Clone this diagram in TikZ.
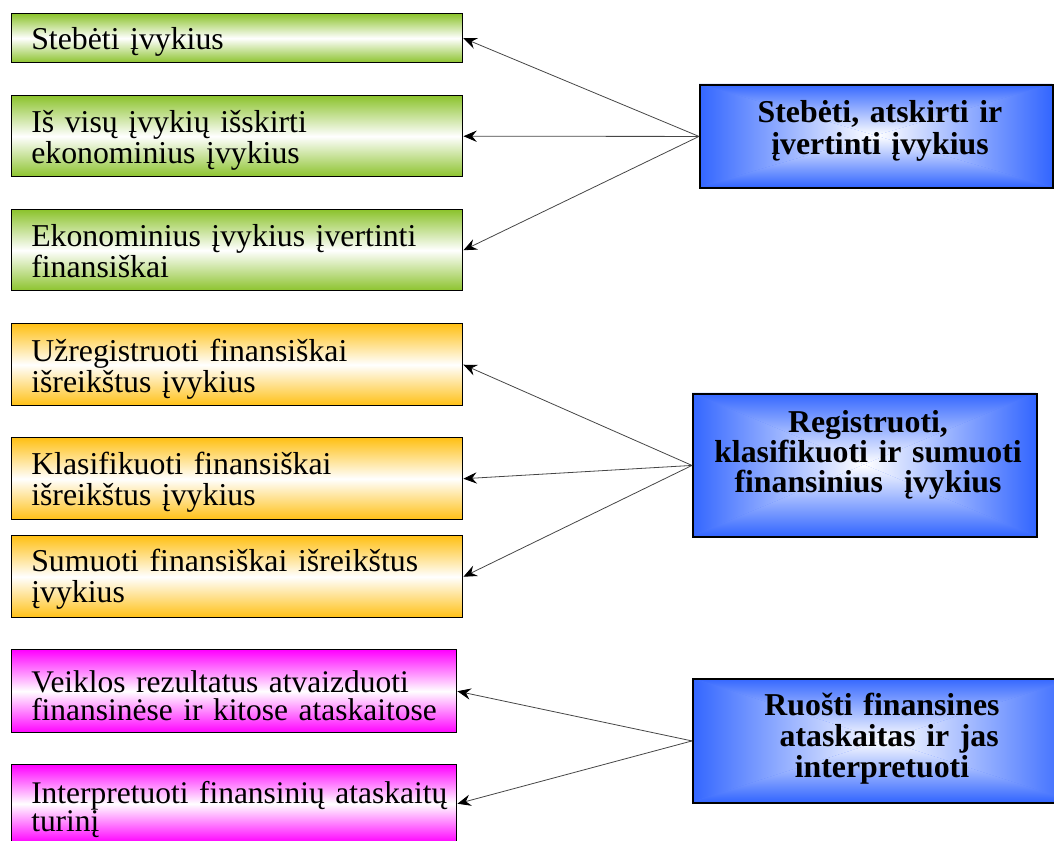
\documentclass[tikz,border=0pt]{standalone}
\usepackage{fontspec}
\setmainfont{Liberation Serif}[Ligatures=NoCommon]
\usetikzlibrary{arrows.meta}
\definecolor{cgreen}{RGB}{140,195,45}
\definecolor{corange}{RGB}{255,192,20}
\definecolor{cmag}{RGB}{255,0,255}
\definecolor{cblue}{RGB}{51,102,255}
\definecolor{cline}{RGB}{70,70,70}
\newcommand\bshade[4]{%
  \fill[cblue!85!white] (#1,#2) rectangle (#3,#4);
  \shade[top color=cblue,bottom color=white] (#1,#2) -- (#3,#2) -- ({(#1+#3)/2},{(#2+#4)/2}) -- cycle;
  \shade[top color=white,bottom color=cblue] (#1,#4) -- (#3,#4) -- ({(#1+#3)/2},{(#2+#4)/2}) -- cycle;
  \shade[left color=cblue,right color=white] (#1,#2) -- (#1,#4) -- ({(#1+#3)/2},{(#2+#4)/2}) -- cycle;
  \shade[left color=white,right color=cblue] (#3,#2) -- (#3,#4) -- ({(#1+#3)/2},{(#2+#4)/2}) -- cycle;
}
\tikzset{
  lbox/.style={draw=black, line width=1.1pt, rectangle, inner sep=0pt, anchor=north west, minimum width=0.75pt*451},
  gbox/.style={lbox, top color=cgreen, bottom color=cgreen, middle color=white},
  obox/.style={lbox, top color=corange, bottom color=corange, middle color=white},
  mbox/.style={lbox, top color=cmag, bottom color=cmag, middle color=white, minimum width=0.75pt*445},
  ltext/.style={anchor=base west, inner sep=0pt, align=left, text width=0.75pt*425, font=\fontsize{23.85}{23.25}\selectfont},
  mtext/.style={ltext, font=\fontsize{23.6}{21.5}\selectfont},
  bluebox/.style={draw=black, line width=1.4pt, rectangle, inner sep=0pt, anchor=north west},
  btext/.style={anchor=base, inner sep=0pt, align=center, text width=0.75pt*360, font=\bfseries\fontsize{23.85}{23.5}\selectfont},
  arr/.style={draw=cline, line width=0.6pt, -{Stealth[length=10pt,width=8.5pt,inset=3.5pt,black]}}
}
\begin{document}
\begin{tikzpicture}[x=0.75pt,y=-0.75pt]
\useasboundingbox (0,0) rectangle (1054,841);
\clip (0,0) rectangle (1054,841);
% left boxes
\node[gbox, minimum height=0.75pt*49] (b1) at (11,13) {};
\node[gbox, minimum height=0.75pt*81] (b2) at (11,95) {};
\node[gbox, minimum height=0.75pt*81] (b3) at (11,209) {};
\node[obox, minimum height=0.75pt*82] (b4) at (11,323) {};
\node[obox, minimum height=0.75pt*82] (b5) at (11,437) {};
\node[obox, minimum height=0.75pt*82] (b6) at (11,535) {};
\node[mbox, minimum height=0.75pt*83] (b7) at (11,649) {};
\node[mbox, minimum height=0.75pt*78] (b8) at (11,764) {};
\node[ltext] (t1) at (31,50) {Stebėti įvykius};
\node[ltext] (t2) at (31,133) {Iš visų įvykių išskirti\\ekonominius įvykius};
\node[ltext] (t3) at (31,247) {Ekonominius įvykius įvertinti\\finansiškai};
\node[ltext] (t4) at (31,362) {Užregistruoti finansiškai\\išreikštus įvykius};
\node[ltext] (t5) at (31,475) {Klasifikuoti finansiškai\\išreikštus įvykius};
\node[ltext] (t6) at (31,572) {Sumuoti finansiškai išreikštus\\įvykius};
\node[mtext] (t7) at (31,692) {Veiklos rezultatus atvaizduoti\\finansinėse ir kitose ataskaitose};
\node[mtext] (t8) at (31,803) {Interpretuoti finansinių ataskaitų\\turinį};
% blue boxes
\bshade{699}{84}{1052}{187}
\bshade{692}{393}{1036}{536}
\bshade{692}{678}{1075}{802}
\node[bluebox, minimum width=0.75pt*353, minimum height=0.75pt*103] (A) at (699,84) {};
\node[bluebox, minimum width=0.75pt*344, minimum height=0.75pt*143] (B) at (692,393) {};
\node[bluebox, minimum width=0.75pt*383, minimum height=0.75pt*124] (C) at (692,678) {};
\node[btext] (tA) at (880,123) {Stebėti, atskirti ir\\įvertinti įvykius};
\node[btext, font=\bfseries\fontsize{23.85}{22.5}\selectfont] (tB) at (868,433) {Registruoti,\\klasifikuoti ir sumuoti\\finansinius\ \ įvykius};
\node[btext] (tC) at (882,715) {Ruošti finansines\\\hspace*{0.45em}ataskaitas ir jas\\interpretuoti};
% connectors
\draw[arr] (A.west) -- (b1.east);
\draw[arr] (A.west) -- (b2.east);
\draw[arr] (A.west) -- (b3.east);
\draw[arr] (B.west) -- (b4.east);
\draw[arr] (B.west) -- (b5.east);
\draw[arr] (B.west) -- (b6.east);
\draw[arr] (C.west) -- (b7.east);
\draw[arr] (C.west) -- (b8.east);
\end{tikzpicture}
\end{document}
